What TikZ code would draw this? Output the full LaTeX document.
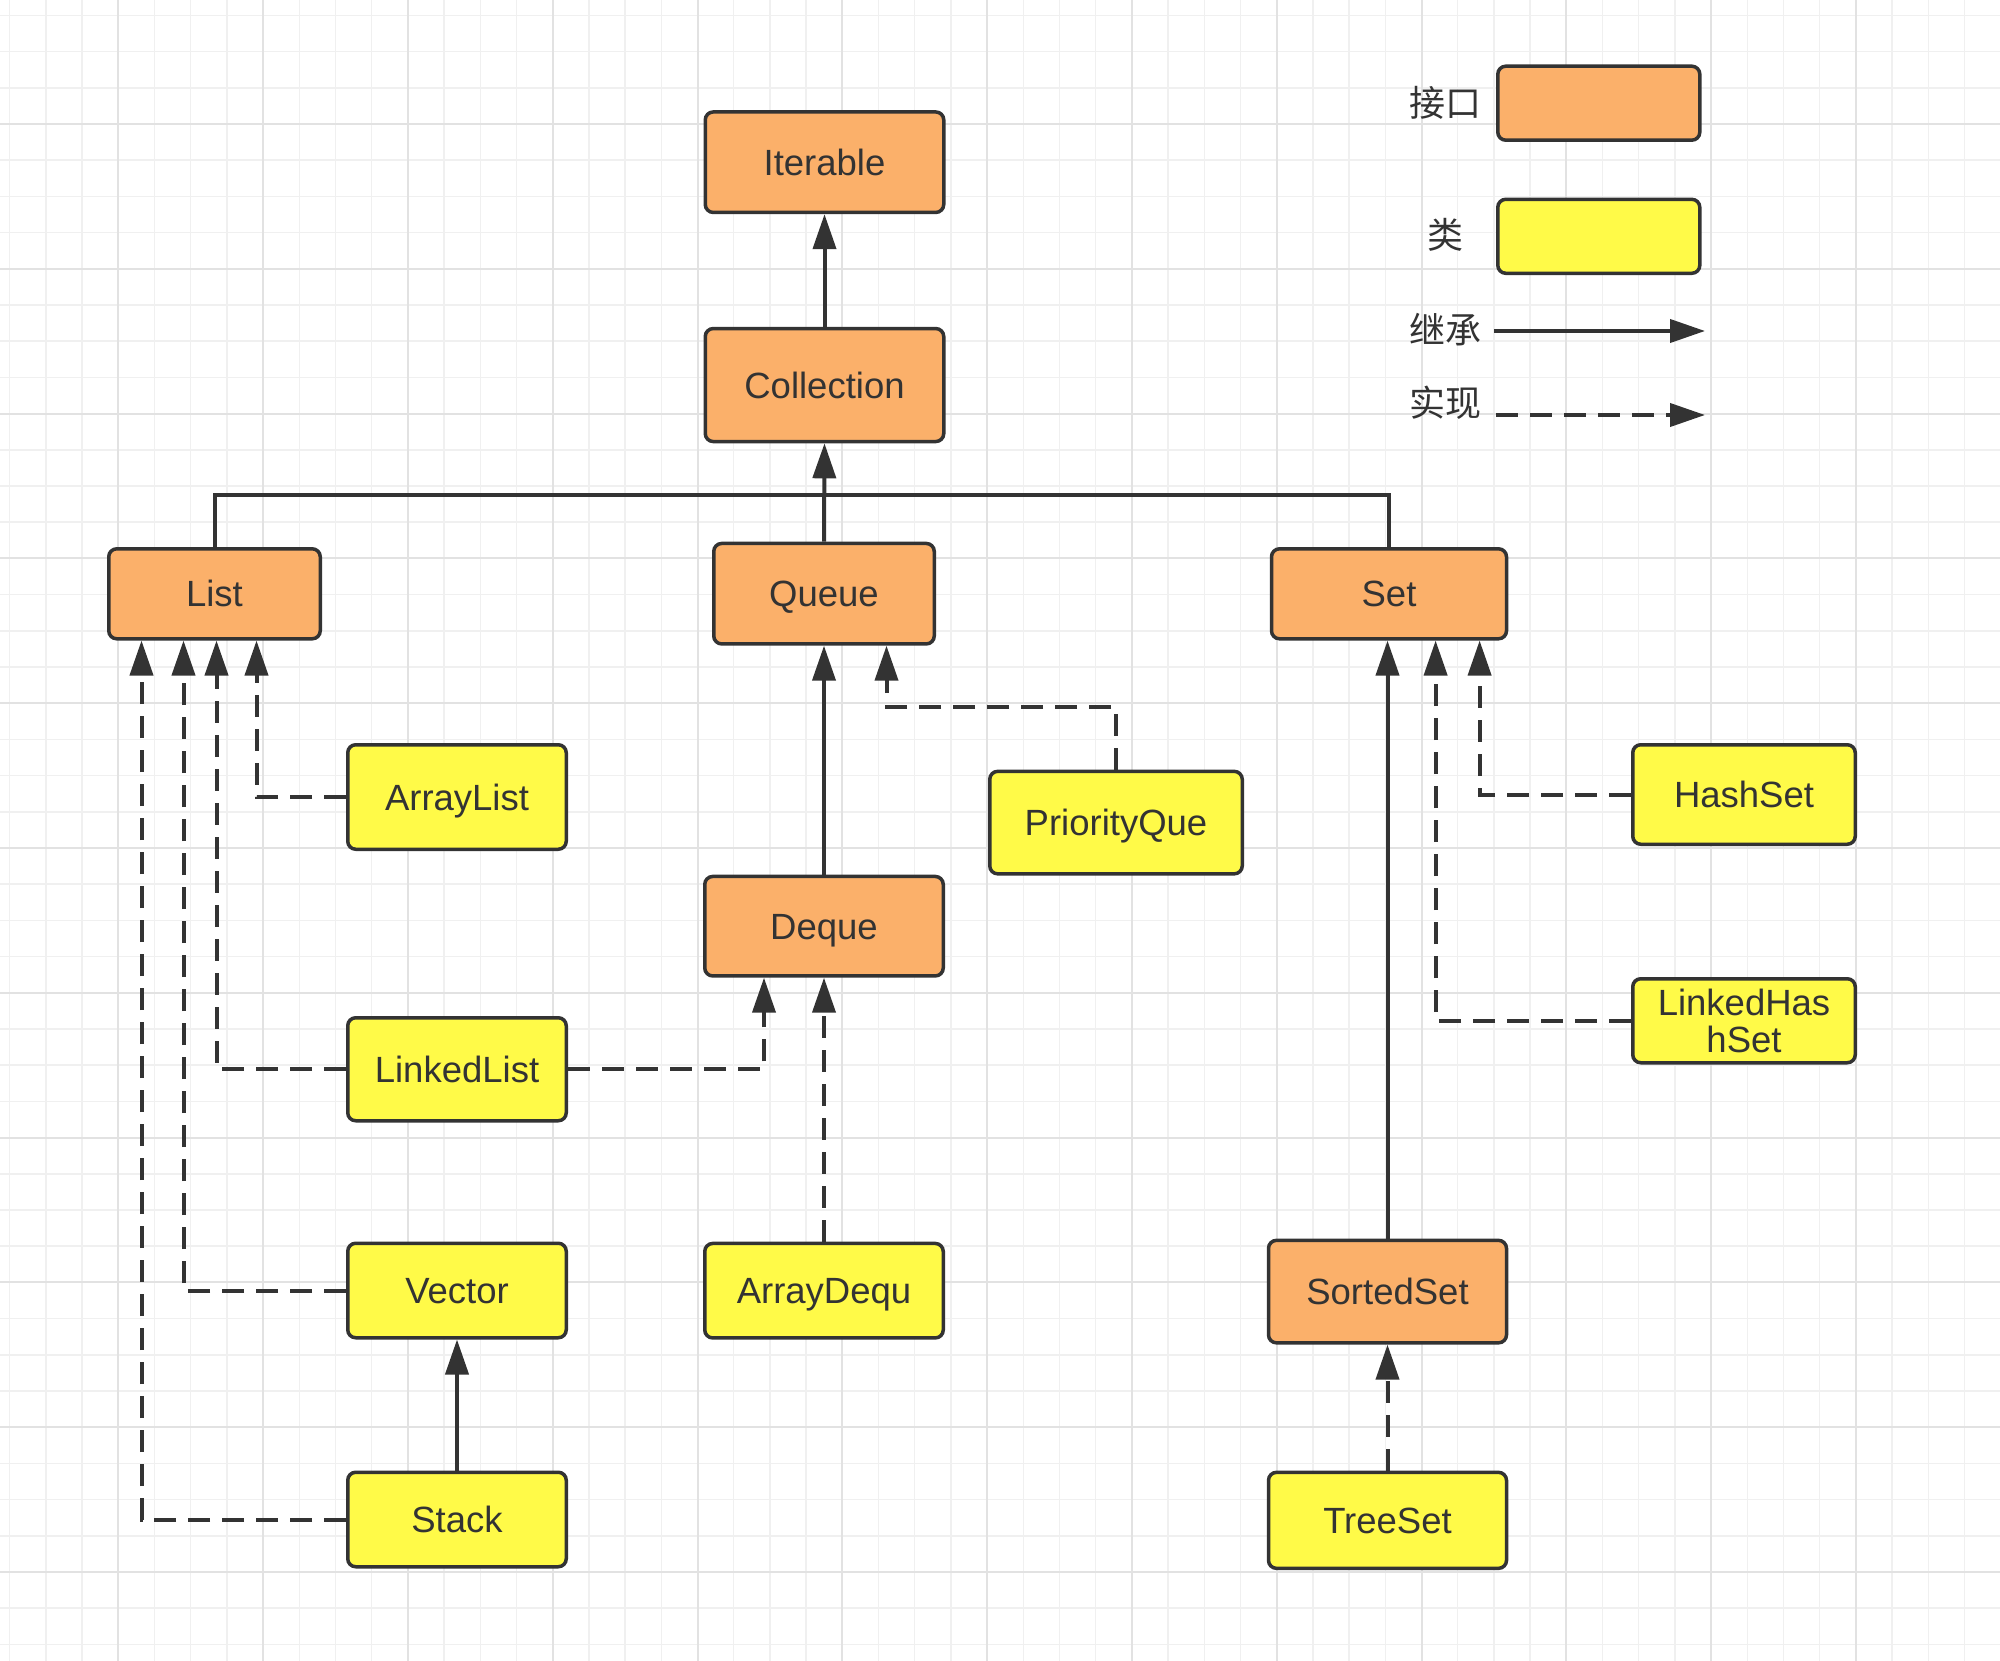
\documentclass[tikz,border=0pt]{standalone}
\usepackage{fontspec}
\setmainfont{Liberation Sans}
\newfontfamily\cjkfont{Noto Sans CJK SC}
\usetikzlibrary{positioning}
\usetikzlibrary{arrows.meta}

\definecolor{ifaceorange}{RGB}{251,176,106}
\definecolor{clsyellow}{RGB}{255,250,72}
\definecolor{linegray}{RGB}{51,51,51}
\definecolor{textgray}{RGB}{51,51,51}
\definecolor{gridminor}{RGB}{240,240,240}
\definecolor{gridmajor}{RGB}{226,226,226}

\tikzset{
  box/.style={draw=linegray, line width=3.5pt, rounded corners=8pt, inner sep=0pt,
    align=center, text=textgray, font=\fontsize{36.5}{37}\selectfont,
    text height=26pt, text depth=0pt},
  iface/.style={box, fill=ifaceorange},
  cls/.style={box, fill=clsyellow},
  inh/.style={draw=linegray, line width=4pt, -{Triangle[length=35pt,width=23pt]}},
  impl/.style={inh, dash pattern=on 22pt off 12pt},
  trunk/.style={draw=linegray, line width=4pt},
  legendtext/.style={text=textgray, font=\cjkfont\fontsize{36}{36}\selectfont, inner sep=0pt},
}

\begin{document}
\begin{tikzpicture}[x=1pt,y=-1pt]
        % background and grid
        \fill[white] (0,0) rectangle (2000,1661);
        \useasboundingbox (0,0) rectangle (2000,1661);
        \foreach \i in {0,...,54}
          \draw[gridminor, line width=1.5pt] ({9.7+36.2*\i},0) -- ({9.7+36.2*\i},1661);
        \foreach \i in {0,...,45}
          \draw[gridminor, line width=1.5pt] (0,{15.4+36.2*\i}) -- (2000,{15.4+36.2*\i});
        \foreach \i in {0,...,12}
          \draw[gridmajor, line width=2pt] ({118.3+144.8*\i},0) -- ({118.3+144.8*\i},1661);
        \foreach \i in {0,...,10}
          \draw[gridmajor, line width=2pt] (0,{124+144.8*\i}) -- (2000,{124+144.8*\i});

        % interfaces
        \node[iface, minimum width=238.5pt, minimum height=100.5pt] (iterable) at (824.5,162.2) {Iterable};
        \node[iface, minimum width=238.5pt, minimum height=113pt, below=112.6pt of iterable] (collection) {Collection};
        \node[iface, minimum width=220.5pt, minimum height=100.5pt] (queue) at (824,593.7) {Queue};
        \node[iface, minimum width=211.5pt, minimum height=90pt] (list) at (214.5,593.8) {List};
        \node[iface, minimum width=235pt, minimum height=90pt] (set) at (1389,593.8) {Set};
        \node[iface, minimum width=238.5pt, minimum height=99.5pt, below=229pt of queue] (deque) {Deque};
        \node[iface, minimum width=238pt, minimum height=102.5pt] (sortedset) at (1387.5,1291.6) {SortedSet};

        % classes
        \node[cls, minimum width=218.5pt, minimum height=104.5pt] (arraylist) at (457,797) {ArrayList};
        \node[cls, minimum width=218.5pt, minimum height=103pt, below=165pt of arraylist] (linkedlist) {LinkedList};
        \node[cls, minimum width=218.5pt, minimum height=94.5pt, below=119pt of linkedlist] (vector) {Vector};
        \node[cls, minimum width=218.5pt, minimum height=94.5pt, below=131pt of vector] (stack) {Stack};
        \node[cls, minimum width=238.5pt, minimum height=94.5pt, below=264pt of deque] (arraydequ) {ArrayDequ};
        \node[cls, minimum width=252.5pt, minimum height=102.5pt] (priorityque) at (1116,822.6) {PriorityQue};
        \node[cls, minimum width=222.5pt, minimum height=99.5pt] (hashset) at (1744,794.5) {HashSet};
        \node[cls, minimum width=222.5pt, minimum height=84pt, below=131pt of hashset,
              text height=63pt, text depth=0pt] (linkedhashset) {LinkedHas\\hSet};
        \node[cls, minimum width=238pt, minimum height=96pt, below=126pt of sortedset] (treeset) {TreeSet};

        % legend
        \node[iface, minimum width=202pt, minimum height=74pt] (keyiface) at (1598.8,103.2) {};
        \node[cls, minimum width=202pt, minimum height=74pt, below=55.6pt of keyiface] (keycls) {};
        \node[legendtext] (lbiface) at (1445.5,103) {接口};
        \node[legendtext] (lbcls) at (1445.5,235) {类};
        \node[legendtext] (lbinh) at (1445.5,330) {继承};
        \node[legendtext] (lbimpl) at (1445.5,403) {实现};
        \coordinate (inhfrom) at (1494,331);
        \coordinate (inhto) at (1705,331);
        \coordinate (implfrom) at (1496,415);
        \coordinate (implto) at (1705,415);
        \draw[inh] (inhfrom) -- (inhto);
        \draw[impl] (implfrom) -- (implto);

        % inheritance
        \coordinate (fork) at (824,495);
        \draw[inh] (collection.north) -- (iterable.south);
        \draw[inh] (queue.north) -- (collection.south);
        \draw[trunk] (list.north) |- (fork);
        \draw[trunk] (set.north) |- (fork);
        \draw[inh] (deque.north) -- (queue.south);
        \draw[inh] (stack.north) -- (vector.south);
        \draw[inh] (sortedset.north) -- (sortedset.north |- set.south);

        % implementation
        \draw[impl] (arraylist.west) -| ([xshift=42pt]list.south);
        \draw[impl] (linkedlist.west) -| ([xshift=2pt]list.south);
        \draw[impl] (vector.west) -| ([xshift=-31pt]list.south);
        \draw[impl] (stack.west) -| ([xshift=-73pt]list.south);
        \draw[impl] (linkedlist.east) -| ([xshift=-60pt]deque.south);
        \draw[impl] (arraydequ.north) -- (deque.south);
        \draw[impl] (priorityque.north) -- ++(0,-63) -| ([xshift=62.5pt]queue.south);
        \draw[impl] (hashset.west) -| ([xshift=90.6pt]set.south);
        \draw[impl] (linkedhashset.west) -| ([xshift=46.6pt]set.south);
        \draw[impl] (treeset.north) -- (sortedset.south);
\end{tikzpicture}
\end{document}
